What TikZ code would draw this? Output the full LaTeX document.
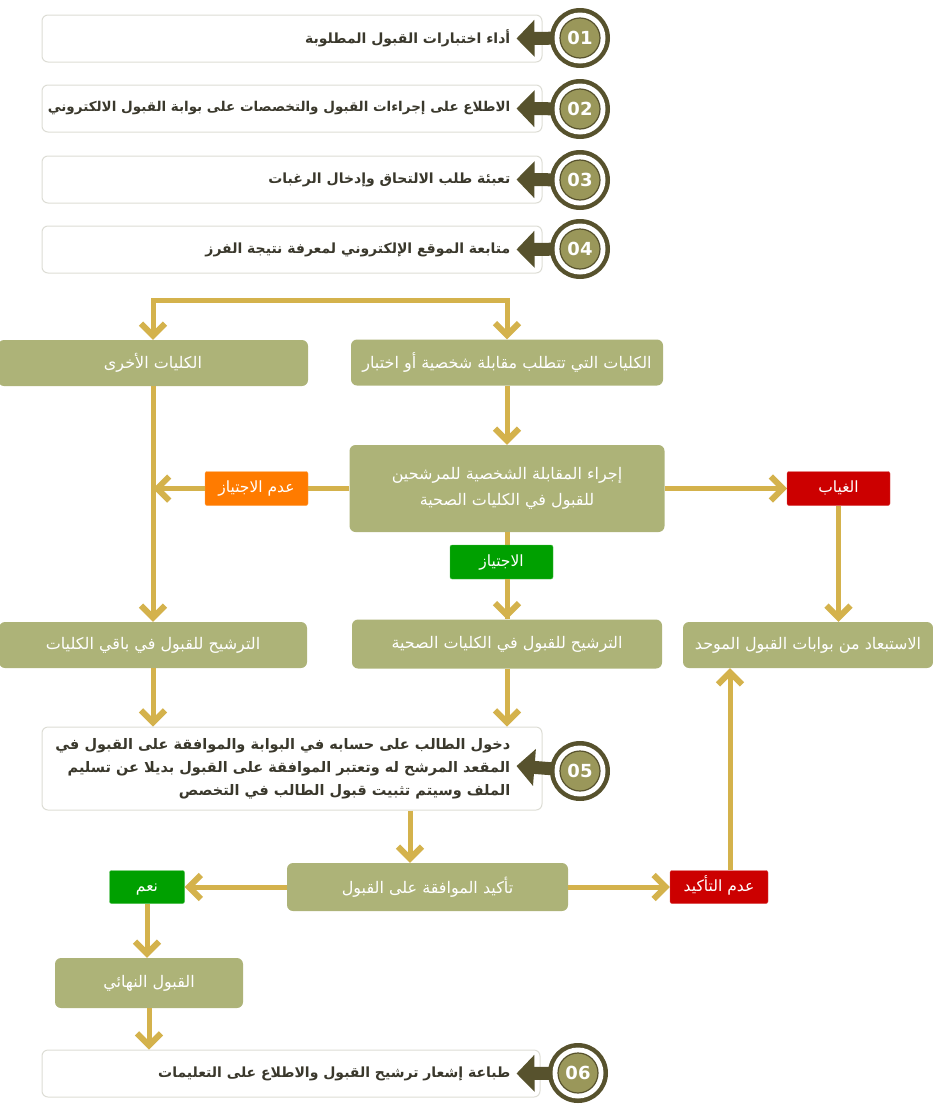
\documentclass[tikz,border=0pt]{standalone}
\usepackage{fontspec}
\usepackage{tikz}
\usetikzlibrary{positioning,arrows.meta}
\TeXXeTstate=1
\newfontfamily\arabicfont[Script=Arabic]{DejaVu Sans}
\newfontfamily\numfont{DejaVu Sans}
\definecolor{gold}{HTML}{D4B24C}
\definecolor{boxolive}{HTML}{ADB378}
\definecolor{darkolive}{HTML}{57522D}
\definecolor{numolive}{HTML}{9A975A}
\definecolor{stepline}{HTML}{DDDDD5}
\definecolor{stepink}{HTML}{3A382C}
\definecolor{tagorange}{HTML}{FF7B00}
\definecolor{tagred}{HTML}{CC0000}
\definecolor{taggreen}{HTML}{00A000}

\begin{document}
\begin{tikzpicture}[x=1pt, y=-1pt,
    every node/.style={font=\arabicfont},
    stepbox/.style={draw=stepline, line width=1pt, rounded corners=6pt, fill=white, minimum width=500pt, minimum height=47pt},
    steptext/.style={anchor=east, inner sep=0pt, align=right, text=stepink, font=\arabicfont\bfseries\fontsize{14}{23}\selectfont},
    flowbox/.style={rounded corners=6pt, fill=boxolive, text=white, minimum height=46pt, align=center, font=\arabicfont\fontsize{16}{26}\selectfont},
    tag/.style={rounded corners=2pt, draw=#1!70!white, fill=#1, text=white, minimum width=103pt, minimum height=34pt, text height=12pt, text depth=4pt, font=\arabicfont\fontsize{15.5}{18}\selectfont},
    numring/.style={circle, minimum size=60pt, fill=darkolive, text=white, font=\numfont\bfseries\fontsize{18}{18}\selectfont,
        path picture={
            \fill[white] (path picture bounding box.center) circle (25.5pt);
            \fill[numolive] (path picture bounding box.center) circle (20pt);
            \draw[darkolive, line width=1.2pt] (path picture bounding box.center) circle (20pt);
        }},
    steparrow/.style={darkolive, line width=13pt, -{Triangle[length=18pt,width=36pt]}},
    flow/.style={gold, line width=5pt},
    flowarrow/.style={flow, -{Straight Barb[length=12pt,width=24pt,line width=6pt,line join=miter]}}
]
\useasboundingbox (0,0) rectangle (933,1111);

% numbered steps 01-04
\node[stepbox] (s1) at (292,38.5) {};
\node[stepbox] (s2) at (292,108.5) {};
\node[stepbox] (s3) at (292,179.5) {};
\node[stepbox] (s4) at (292,249.5) {};
\node[steptext] (t1) at ([xshift=-32pt]s1.east) {\beginR أداء اختبارات القبول المطلوبة\endR};
\node[steptext, font=\arabicfont\bfseries\fontsize{13.5}{23}\selectfont] (t2) at ([xshift=-32pt]s2.east) {\beginR الاطلاع على إجراءات القبول والتخصصات على بوابة القبول الالكتروني\endR};
\node[steptext] (t3) at ([xshift=-32pt]s3.east) {\beginR تعبئة طلب الالتحاق وإدخال الرغبات\endR};
\node[steptext] (t4) at ([xshift=-32pt]s4.east) {\beginR متابعة الموقع الإلكتروني لمعرفة نتيجة الفرز\endR};
\coordinate (c1) at (580,38);
\coordinate (c2) at (580,109);
\coordinate (c3) at (580,180);
\coordinate (c4) at (580,249);
\draw[steparrow] (c1) -- ([xshift=-26pt]s1.east);
\draw[steparrow] (c2) -- ([xshift=-26pt]s2.east);
\draw[steparrow] (c3) -- ([xshift=-26pt]s3.east);
\draw[steparrow] (c4) -- ([xshift=-26pt]s4.east);
\node[numring] (n1) at (c1) {01};
\node[numring] (n2) at (c2) {02};
\node[numring] (n3) at (c3) {03};
\node[numring] (n4) at (c4) {04};

% colleges
\node[flowbox, minimum width=310pt] (other) at (153,363) {\beginR الكليات الأخرى\endR};
\node[flowbox, minimum width=312pt] (req) at (507,362.5) {\beginR الكليات التي تتطلب مقابلة شخصية أو اختبار\endR};
\node[flowbox, minimum width=315pt, minimum height=87pt] (interview) at (507,488.5) {\beginR إجراء المقابلة الشخصية للمرشحين\endR\\ \beginR للقبول في الكليات الصحية\endR};
\node[flowbox, minimum width=308pt] (rest) at (153,645) {\beginR الترشيح للقبول في باقي الكليات\endR};
\node[flowbox, minimum width=310pt, minimum height=49pt] (health) at (507,644) {\beginR الترشيح للقبول في الكليات الصحية\endR};
\node[flowbox, minimum width=250pt] (exclude) at (808,645) {\beginR الاستبعاد من بوابات القبول الموحد\endR};

\coordinate (fork) at (330,300);
\draw[flowarrow] (fork) -| (other.north);
\draw[flowarrow] (fork) -| (req.north);
\draw[flowarrow] (req.south) -- (interview.north);
\draw[flowarrow] (other.south) -- (rest.north);
\draw[flow] (interview.west) -- (256,488.5);
\draw[flowarrow] (interview.east) -- (787,488.5);
\draw[flow] (interview.south) -- (health.north);

\node[tag=tagorange] (fail) at (256.5,488.5) {\beginR عدم الاجتياز\endR};
\node[tag=tagred] (absent) at (838.5,488.5) {\beginR الغياب\endR};
\node[tag=taggreen] (pass) at (501.5,562) {\beginR الاجتياز\endR};
\draw[flowarrow] (fail.west) -- (fail.west -| other.south);
\draw[flowarrow] (pass.south -| health.north) -- (health.north);
\draw[flowarrow] (absent.south) -- (absent.south |- exclude.north);

% step 05
\node[stepbox, minimum height=83pt] (s5) at (292,768.5) {};
\node[steptext, font=\arabicfont\bfseries\fontsize{14.5}{23}\selectfont] (t5) at ([xshift=-32pt]s5.east) {\beginR دخول الطالب على حسابه في البوابة والموافقة على القبول في\endR\\ \beginR المقعد المرشح له وتعتبر الموافقة على القبول بديلا عن تسليم\endR\\ \beginR الملف وسيتم تثبيت قبول  الطالب في التخصص\endR};
\coordinate (c5) at (580,771);
\draw[steparrow] (c5) -- ([xshift=-26pt,yshift=2.5pt]s5.east);
\node[numring] (n5) at (c5) {05};
\draw[flowarrow] (rest.south) -- (rest.south |- s5.north);
\draw[flowarrow] (health.south) -- (health.south |- s5.north);

% confirmation
\node[flowbox, minimum width=281pt, minimum height=48pt] (confirm) at (427.5,887) {\beginR تأكيد الموافقة على القبول\endR};
\node[tag=taggreen, minimum width=75pt, minimum height=33pt] (yes) at (147,887) {\beginR نعم\endR};
\node[tag=tagred, minimum width=98pt, minimum height=33pt] (noconf) at (719,887) {\beginR عدم التأكيد\endR};
\node[flowbox, minimum width=188pt, minimum height=50pt] (final) at (149,983) {\beginR القبول النهائي\endR};
\draw[flowarrow] ([xshift=118pt]s5.south) -- ([xshift=118pt]s5.south |- confirm.north);
\draw[flowarrow] (confirm.west) -- (yes.east);
\draw[flowarrow] (confirm.east) -- (noconf.west);
\draw[flowarrow] ([xshift=11pt]noconf.north) -- ([xshift=11pt]noconf.north |- exclude.south);
\draw[flowarrow] (yes.south) -- (yes.south |- final.north);

% step 06
\node[stepbox, minimum width=498pt] (s6) at (291,1073.5) {};
\node[steptext] (t6) at ([xshift=-30pt]s6.east) {\beginR طباعة إشعار ترشيح القبول والاطلاع على التعليمات\endR};
\coordinate (c6) at (578,1073);
\draw[steparrow] (c6) -- ([xshift=-24pt]s6.east);
\node[numring] (n6) at (c6) {06};
\draw[flowarrow] (final.south) -- (final.south |- s6.north);
\end{tikzpicture}
\end{document}
